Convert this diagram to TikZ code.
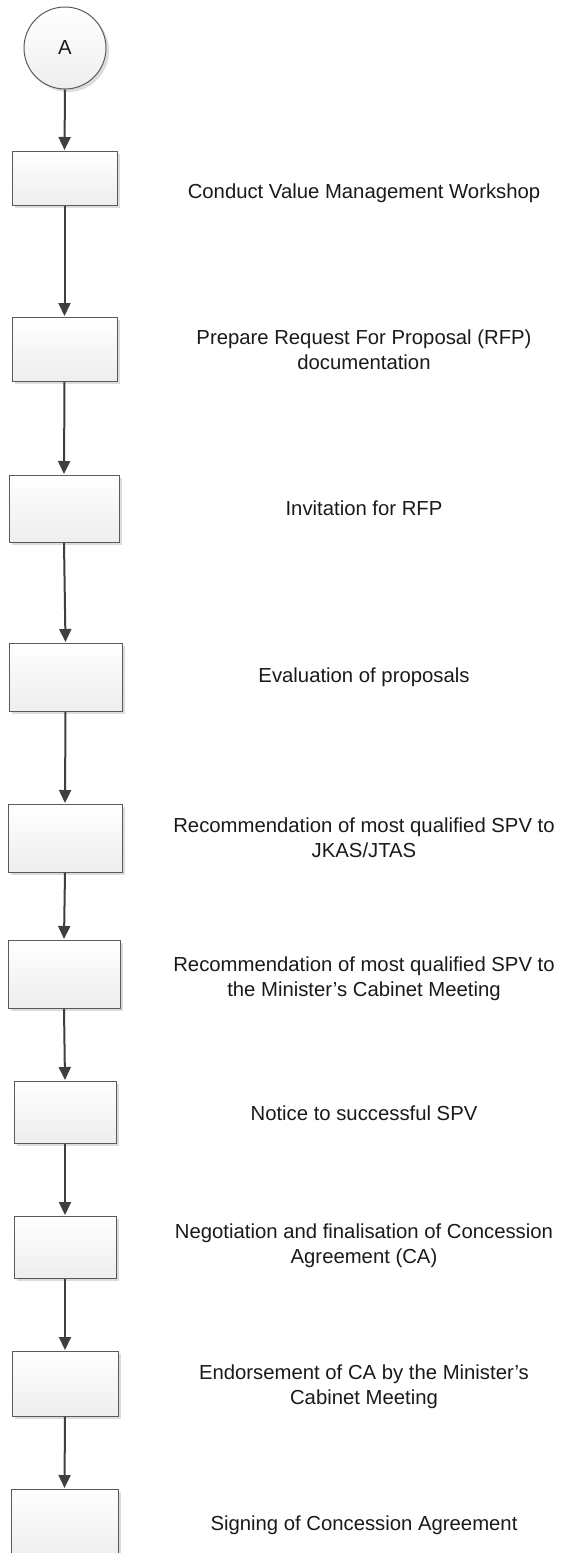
\documentclass[tikz,border=0pt]{standalone}
\usepackage{fontspec}
\setmainfont{Liberation Sans}
\usetikzlibrary{arrows.meta,shadows}
\definecolor{edgegray}{HTML}{5A5A5A}
\definecolor{arrowgray}{HTML}{3F3F3F}
\definecolor{shadegray}{HTML}{EEEEEE}
\definecolor{shadowgray}{HTML}{DCDCDC}
\definecolor{inkblack}{HTML}{1A1A1A}
\begin{document}
\begin{tikzpicture}[x=1pt,y=-1pt,
  stepbox/.style={draw=edgegray, line width=1pt, rectangle, inner sep=0pt,
    top color=white, bottom color=shadegray,
    drop shadow={shadow xshift=3pt, shadow yshift=-3pt, fill=shadowgray, opacity=1}},
  connector/.style={draw=edgegray, line width=1pt, circle, inner sep=0pt,
    minimum size=82pt, top color=white, bottom color=shadegray,
    drop shadow={shadow xshift=3pt, shadow yshift=-3pt, fill=shadowgray, opacity=1},
    font=\fontsize{20.3}{25}\selectfont, text=inkblack},
  steptext/.style={align=center, inner sep=0pt, text=inkblack,
    font=\fontsize{20.3}{25}\selectfont},
  flow/.style={draw=arrowgray, line width=2pt,
    -{Triangle[length=13pt,width=12pt]}, shorten >=0.5pt}]
\useasboundingbox (0,0) rectangle (566,1553);
\clip (0,0) rectangle (566,1553);
\fill[white] (0,0) rectangle (566,1553);

% off-page connector
\node[connector] (a) at (65,48) {A};

% process boxes
\node[stepbox, minimum width=105pt, minimum height=54pt] (b1) at (64.5,178) {};
\node[stepbox, minimum width=105pt, minimum height=64pt] (b2) at (64.5,349) {};
\node[stepbox, minimum width=110pt, minimum height=67pt] (b3) at (64,508.5) {};
\node[stepbox, minimum width=113pt, minimum height=68pt] (b4) at (65.5,677) {};
\node[stepbox, minimum width=114pt, minimum height=68pt] (b5) at (65,838) {};
\node[stepbox, minimum width=112pt, minimum height=68pt] (b6) at (64,974) {};
\node[stepbox, minimum width=102pt, minimum height=62pt] (b7) at (65,1112) {};
\node[stepbox, minimum width=102pt, minimum height=62pt] (b8) at (65,1247) {};
\node[stepbox, minimum width=106pt, minimum height=65pt] (b9) at (65,1383.5) {};
\node[stepbox, minimum width=107pt, minimum height=67pt] (b10) at (64.5,1522.5) {};

% step descriptions
\node[steptext] (t1) at (364,193) {Conduct Value Management Workshop};
\node[steptext] (t2) at (364,350) {Prepare Request For Proposal (RFP)\\documentation};
\node[steptext] (t3) at (364,508) {Invitation for RFP};
\node[steptext] (t4) at (364,677) {Evaluation of proposals};
\node[steptext] (t5) at (364,837.5) {Recommendation of most qualified SPV to\\JKAS/JTAS};
\node[steptext] (t6) at (364,978.5) {Recommendation of most qualified SPV to\\the Minister’s Cabinet Meeting};
\node[steptext] (t7) at (364,1113) {Notice to successful SPV};
\node[steptext] (t8) at (364,1245.5) {Negotiation and finalisation of Concession\\Agreement (CA)};
\node[steptext] (t9) at (364,1387) {Endorsement of CA by the Minister’s\\Cabinet Meeting};
\node[steptext] (t10) at (364,1525) {Signing of Concession Agreement};

% flow arrows
\draw[flow] (a.south) -- (b1.north);
\draw[flow] (b1.south) -- (b2.north);
\draw[flow] (b2.south) -- (b3.north);
\draw[flow] (b3.south) -- (b4.north);
\draw[flow] (b4.south) -- (b5.north);
\draw[flow] (b5.south) -- (b6.north);
\draw[flow] (b6.south) -- (b7.north);
\draw[flow] (b7.south) -- (b8.north);
\draw[flow] (b8.south) -- (b9.north);
\draw[flow] (b9.south) -- (b10.north);
\end{tikzpicture}
\end{document}
